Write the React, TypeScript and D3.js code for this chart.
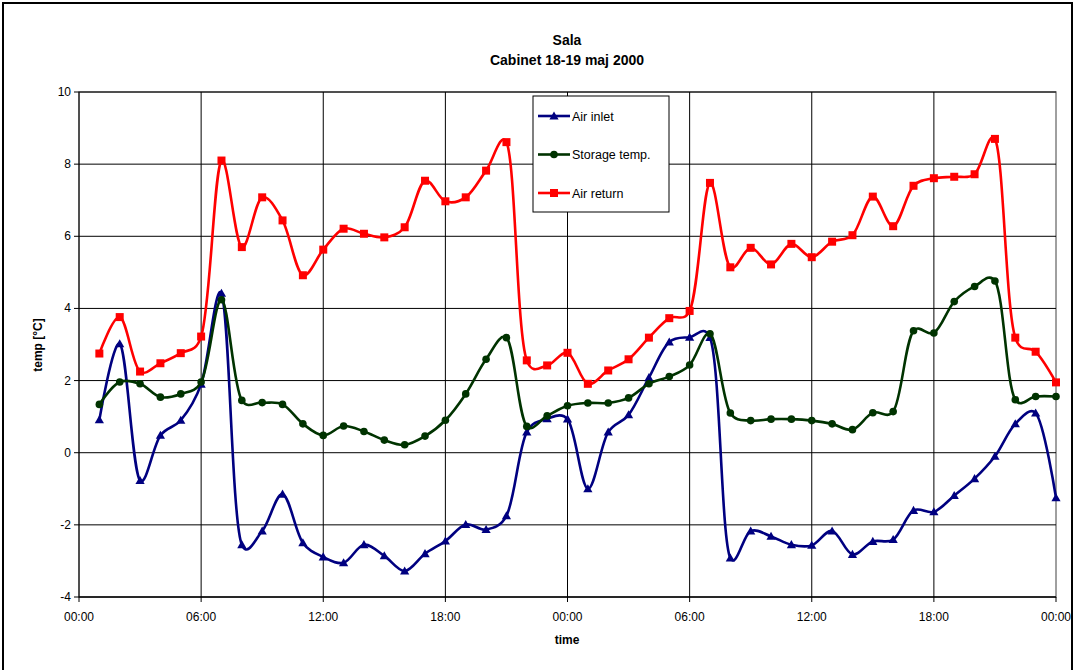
import React from "react";
import * as d3 from "d3";

// Hourly readings, hour 1 .. 48 (18-19 May 2000)
const hours = d3.range(1, 49);

const airInlet = [
  0.91, 3.02, -0.77, 0.48, 0.9, 1.9, 4.42, -2.55, -2.17, -1.15, -2.5, -2.89,
  -3.05, -2.55, -2.86, -3.28, -2.8, -2.45, -1.99, -2.13, -1.75, 0.57, 0.94, 0.93,
  -1.0, 0.57, 1.05, 2.08, 3.07, 3.2, 3.19, -2.92, -2.17, -2.32, -2.55, -2.57,
  -2.17, -2.82, -2.46, -2.41, -1.6, -1.64, -1.19, -0.72, -0.1, 0.8, 1.1, -1.25,
];

const storageTemp = [
  1.34, 1.96, 1.91, 1.54, 1.63, 1.96, 4.24, 1.45, 1.39, 1.34, 0.8, 0.48,
  0.74, 0.59, 0.35, 0.22, 0.46, 0.9, 1.63, 2.59, 3.19, 0.73, 1.02, 1.3,
  1.38, 1.38, 1.52, 1.91, 2.11, 2.43, 3.3, 1.1, 0.89, 0.93, 0.93, 0.89,
  0.8, 0.64, 1.11, 1.14, 3.38, 3.32, 4.19, 4.61, 4.76, 1.47, 1.56, 1.56,
];

const airReturn = [
  2.75, 3.76, 2.25, 2.48, 2.76, 3.22, 8.1, 5.7, 7.08, 6.44, 4.92, 5.63,
  6.21, 6.07, 5.97, 6.25, 7.54, 6.97, 7.08, 7.82, 8.61, 2.56, 2.42, 2.77,
  1.91, 2.28, 2.59, 3.19, 3.73, 3.93, 7.48, 5.14, 5.68, 5.22, 5.79, 5.42,
  5.85, 6.03, 7.1, 6.28, 7.4, 7.61, 7.65, 7.72, 8.7, 3.19, 2.8, 1.95,
];

const xTicks = [0, 6, 12, 18, 24, 30, 36, 42, 48];
const xTickLabels = ["00:00", "06:00", "12:00", "18:00", "00:00", "06:00", "12:00", "18:00", "00:00"];
const yTicks = [-4, -2, 0, 2, 4, 6, 8, 10];

type Marker = "triangle" | "circle" | "square";
const series: { name: string; values: number[]; color: string; marker: Marker }[] = [
  { name: "Air inlet", values: airInlet, color: "#000080", marker: "triangle" },
  { name: "Storage temp.", values: storageTemp, color: "#003300", marker: "circle" },
  { name: "Air return", values: airReturn, color: "#ff0000", marker: "square" },
];

const W = 1075;
const H = 670;
const plot = { left: 79, right: 1056, top: 92, bottom: 597 };
const FONT = "'Liberation Sans', Arial, sans-serif";

const x = d3.scaleLinear().domain([0, 48]).range([plot.left, plot.right]);
const y = d3.scaleLinear().domain([-4, 10]).range([plot.bottom, plot.top]);

function MarkerShape({ type, cx, cy, color }: { type: Marker; cx: number; cy: number; color: string }) {
  if (type === "triangle") {
    const s = 4.6;
    return (
      <path
        d={`M${cx},${cy - s} L${cx + s},${cy + s * 0.75} L${cx - s},${cy + s * 0.75} Z`}
        fill={color}
      />
    );
  }
  if (type === "circle") return <circle cx={cx} cy={cy} r={3.8} fill={color} />;
  return <rect x={cx - 4} y={cy - 4} width={8} height={8} fill={color} />;
}

export default function App() {
  const line = d3
    .line<number>()
    .x((_, i) => x(hours[i]))
    .y((d) => y(d))
    .curve(d3.curveCatmullRom.alpha(0.25));

  const legend = { x: 533, y: 96, w: 136, h: 116 };

  return (
    <svg
      width={W}
      height={H}
      style={{ position: "absolute", left: 0, top: 0, background: "#fff" }}
      fontFamily={FONT}
    >
      {/* outer frame */}
      <rect x={3} y={3} width={1069} height={H + 10} fill="none" stroke="#000" strokeWidth={2} />

      {/* title */}
      <text x={567} y={45} textAnchor="middle" fontSize={14} fontWeight="bold">
        Sala
      </text>
      <text x={567} y={65} textAnchor="middle" fontSize={14} fontWeight="bold">
        Cabinet 18-19 maj 2000
      </text>

      {/* plot border */}
      <rect
        x={plot.left}
        y={plot.top}
        width={plot.right - plot.left}
        height={plot.bottom - plot.top}
        fill="none"
        stroke="#808080"
        strokeWidth={1.5}
      />

      {/* horizontal grid */}
      {yTicks.map((t) => (
        <line key={"hy" + t} x1={plot.left} x2={plot.right} y1={y(t)} y2={y(t)} stroke="#000" strokeWidth={1} />
      ))}
      {/* vertical grid */}
      {xTicks.slice(1, -1).map((t) => (
        <line key={"vx" + t} x1={x(t)} x2={x(t)} y1={plot.top} y2={plot.bottom} stroke="#000" strokeWidth={1} />
      ))}

      {/* axes */}
      <line x1={plot.left} x2={plot.left} y1={plot.top} y2={plot.bottom} stroke="#000" strokeWidth={1} />
      <line x1={plot.left} x2={plot.right} y1={plot.bottom} y2={plot.bottom} stroke="#000" strokeWidth={1} />
      {yTicks.map((t) => (
        <g key={"yt" + t}>
          <line x1={plot.left - 5} x2={plot.left} y1={y(t)} y2={y(t)} stroke="#000" />
          <text x={plot.left - 8} y={y(t) + 4} textAnchor="end" fontSize={12}>
            {t}
          </text>
        </g>
      ))}
      {xTicks.map((t, i) => (
        <g key={"xt" + t}>
          <line x1={x(t)} x2={x(t)} y1={plot.bottom} y2={plot.bottom + 5} stroke="#000" />
          <text x={x(t)} y={plot.bottom + 24} textAnchor="middle" fontSize={12}>
            {xTickLabels[i]}
          </text>
        </g>
      ))}

      {/* axis titles */}
      <text x={567} y={644} textAnchor="middle" fontSize={12} fontWeight="bold">
        time
      </text>
      <text
        transform={`translate(42,345) rotate(-90)`}
        textAnchor="middle"
        fontSize={12}
        fontWeight="bold"
      >
        temp [°C]
      </text>

      {/* series */}
      {series.map((s) => (
        <g key={s.name}>
          <path d={line(s.values) || ""} fill="none" stroke={s.color} strokeWidth={2.6} />
          {s.values.map((v, i) => (
            <MarkerShape key={i} type={s.marker} cx={x(hours[i])} cy={y(v)} color={s.color} />
          ))}
        </g>
      ))}

      {/* legend */}
      <rect x={legend.x} y={legend.y} width={legend.w} height={legend.h} fill="#fff" stroke="#000" strokeWidth={1} />
      {series.map((s, i) => {
        const ly = legend.y + 20 + i * 38.5;
        return (
          <g key={"lg" + s.name}>
            <line x1={legend.x + 5} x2={legend.x + 37} y1={ly} y2={ly} stroke={s.color} strokeWidth={2.6} />
            <MarkerShape type={s.marker} cx={legend.x + 21} cy={ly} color={s.color} />
            <text x={legend.x + 39} y={ly + 4.5} fontSize={12.5}>
              {s.name}
            </text>
          </g>
        );
      })}
    </svg>
  );
}
